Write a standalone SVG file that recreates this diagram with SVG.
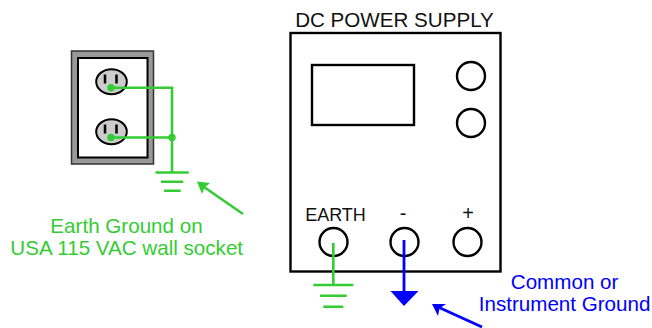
<svg xmlns="http://www.w3.org/2000/svg" width="652" height="328" viewBox="0 0 652 328">
<style>
text{font-family:"Liberation Sans",Arial,sans-serif;font-size:20.600px;text-anchor:middle}
.k{fill:#111}
.g{fill:#33cc33}
.b{fill:#0000ff}
.ko{fill:none;stroke:#000;stroke-width:2.400}
.gl{fill:none;stroke:#33cc33;stroke-width:2.600}
.bl{fill:none;stroke:#0000ff;stroke-width:2.800}
.out{fill:#ccc;stroke:#000;stroke-width:2}
.slot{stroke:#000;stroke-width:2.500}
</style>
<rect width="652" height="328" fill="#fff"/>
<g id="wall-socket">
<rect x="71.500" y="51" width="82" height="113" fill="#999" stroke="#333" stroke-width="1.500"/>
<rect x="78" y="58" width="69.500" height="99.500" fill="#fff" stroke="#000" stroke-width="2"/>
<ellipse class="out" cx="111.500" cy="81.700" rx="15.300" ry="12.500"/>
<ellipse class="out" cx="111.500" cy="131.700" rx="15.300" ry="12.500"/>
<path class="slot" d="M105 74.500v9M116.500 74.500v9M105 124.500v9M116.500 124.500v9"/>
</g>
<g id="power-supply">
<text class="k" x="394.500" y="27">DC POWER SUPPLY</text>
<rect class="ko" x="290.500" y="33" width="210" height="238.500"/>
<rect class="ko" x="312" y="65" width="102" height="60"/>
<circle class="ko" cx="471" cy="76" r="14"/>
<circle class="ko" cx="471" cy="123" r="14"/>
<text class="k" x="335.500" y="221" style="font-size:18px">EARTH</text>
<text class="k" x="403" y="220" style="font-size:20px">-</text>
<text class="k" x="468" y="220" style="font-size:20px">+</text>
<circle class="ko" cx="333.500" cy="242" r="14"/>
<circle class="ko" cx="404.500" cy="242" r="14"/>
<circle class="ko" cx="467.500" cy="242" r="14"/>
</g>
<g id="connectors">
<path class="gl" d="M111 87.700H172V172M111 137.500H172"/>
<circle class="g" cx="111" cy="87.700" r="3.700"/>
<circle class="g" cx="111" cy="137.500" r="3.700"/>
<circle class="g" cx="172" cy="137.500" r="3.700"/>
<path class="gl" d="M155.500 172.500H188.700M161 181.700H183.300M164 190.700H180.700"/>
<path class="gl" d="M243 214L204 187"/>
<path class="g" d="M197 181.500L210 183L204.500 187.500L202 194Z"/>
<path class="gl" d="M333.300 243V285M313.300 285H353.300M320 295.700H346.700M323.300 306.700H343.300"/>
<path class="bl" d="M404 240V295"/>
<path class="b" d="M390.500 291H418.500L404 306Z"/>
<path class="bl" d="M482 327L438 307"/>
<path class="b" d="M432 304L446 304L439.500 308.500L438 316Z"/>
</g>
<g id="earth-label">
<text class="g" x="126.500" y="233">Earth Ground on</text>
<text class="g" x="126.700" y="255">USA 115 VAC wall socket</text>
</g>
<g id="common-label">
<text class="b" x="564.600" y="289">Common or</text>
<text class="b" x="564.600" y="311">Instrument Ground</text>
</g>
</svg>
